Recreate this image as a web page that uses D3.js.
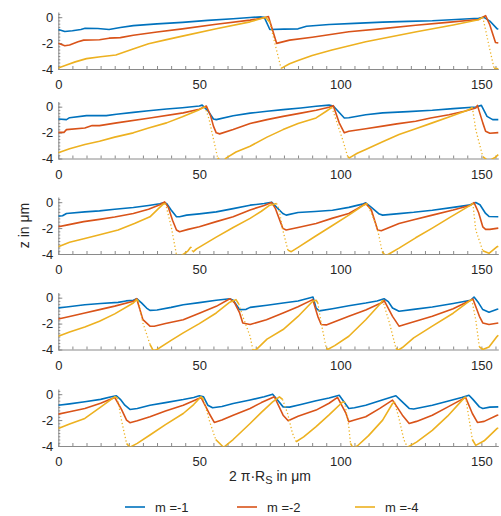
<!DOCTYPE html>
<html>
<head>
<meta charset="utf-8">
<script src="https://cdnjs.cloudflare.com/ajax/libs/d3/7.8.5/d3.min.js"></script>
<style>
body { margin: 0; background: #fff; }
svg { display: block; font-family: "Liberation Sans", Arial, sans-serif; }
</style>
</head>
<body>
<script>
/*series labels and colours*/
var seriesNames = ["m =-1", "m =-2", "m =-4"];
var seriesColors = ["#0072BD", "#D95319", "#EDB120"];

/*tick labels*/
var xTickLabels = [0, 50, 100, 150];
var zTickLabels = [-4, -2, 0];

/*panel 1 : [x in um, z in um]*/
var panel1M1 = [[0,-0.95],[2.3,-1.1],[5,-1.05],[8,-0.95],[9.5,-0.85],[14,-0.87],[18,-0.95],[22,-0.8],[26.6,-0.65],[35,-0.52],[44,-0.4],[53,-0.25],[62,-0.12],[68,-0.02],[72,0.02],[73,0.0],[75,-0.95],[80,-0.92],[85,-0.9],[88,-0.7],[96,-0.56],[105,-0.48],[115,-0.38],[124,-0.32],[132.6,-0.28],[141,-0.18],[149,-0.08],[150.8,0.0],[153,-0.3],[155.6,-0.9],[156,-0.92]];
var panel1M2 = [[0,-2.02],[2.3,-2.2],[4,-2.15],[7,-1.9],[9,-1.77],[14.6,-1.74],[18,-1.62],[22,-1.58],[26.6,-1.4],[35,-1.15],[44,-0.9],[56,-0.55],[68,-0.23],[73,-0.05],[74.5,0.05],[77.4,-2.02],[82,-1.77],[90,-1.55],[103,-1.13],[115,-0.88],[126.7,-0.62],[138,-0.4],[149,-0.18],[151.5,0.12],[153,-0.6],[155,-1.95],[156,-2.0]];
var panel1M4 = [[0,-3.92],[2.9,-3.7],[6,-3.45],[10,-3.2],[15,-3.05],[20.4,-2.92],[26,-2.5],[32,-2.05],[38,-1.75],[44,-1.46],[56,-0.9],[68,-0.36],[72,-0.1],[73.5,0.0],[75,-0.4],[77,-2.2],[79,-3.95],[82,-3.6],[85,-3.35],[90,-2.95],[97,-2.54],[109,-1.9],[127,-1.13],[140,-0.6],[149,-0.2],[150.5,0.0],[152.5,-2.0],[154.5,-3.95],[156,-3.98]];

/*panel 2*/
var panel2M1 = [[0,-0.95],[2.9,-1.0],[4,-0.85],[10,-0.69],[17,-0.69],[20.6,-0.58],[26.6,-0.44],[32,-0.32],[38.4,-0.18],[44,-0.08],[50,0.05],[51,0.12],[53,-0.3],[55,-0.95],[56,-1.0],[62,-0.7],[68,-0.5],[74,-0.35],[79.7,-0.23],[86,-0.1],[91.4,0.03],[96,0.12],[97.5,0.05],[101.4,-0.87],[103,-0.85],[109,-0.62],[115,-0.48],[124,-0.38],[132.6,-0.28],[140,-0.15],[148,-0.02],[150,0.1],[152,-0.75],[154,-1.0],[156,-1.0]];
var panel2M2 = [[0,-1.98],[2,-1.98],[2.9,-1.77],[9.4,-1.65],[12,-1.46],[14.6,-1.46],[20.7,-1.25],[32.5,-0.87],[44.3,-0.48],[50,-0.2],[52.5,0.05],[54,-0.7],[55,-1.5],[56,-2.02],[57.2,-2.1],[62,-1.77],[68,-1.3],[74,-1.0],[79.7,-0.75],[86,-0.5],[91.4,-0.28],[96,-0.05],[97.5,0.08],[99.6,-1.25],[101.4,-2.02],[103,-1.9],[109,-1.7],[115,-1.5],[120,-1.33],[126.7,-1.13],[132,-0.88],[138.5,-0.62],[144,-0.35],[148,-0.1],[148.6,0.1],[150.5,-1.25],[151.5,-1.9],[153,-2.05],[156,-2.0]];
var panel2M4 = [[0,-3.56],[4,-3.25],[9.4,-2.92],[14.6,-2.67],[20,-2.35],[26.6,-2.02],[32,-1.65],[38.4,-1.25],[44,-0.78],[50,-0.23],[52,0.0],[53.5,-1.0],[55.3,-2.8],[56.5,-3.95],[58,-4.3],[59.6,-3.95],[63,-3.5],[68,-3.05],[74,-2.35],[79.7,-1.77],[85,-1.3],[91.4,-0.87],[95,-0.35],[97,-0.05],[100.8,-2.54],[102.6,-3.85],[103.2,-3.95],[106,-3.6],[109,-3.3],[115,-2.7],[120.8,-2.15],[126.7,-1.7],[132.6,-1.25],[139,-0.75],[145.6,-0.23],[146.8,-0.05],[148,-1.77],[150.5,-3.85],[152.5,-4.2],[155,-3.9],[156,-3.7]];

/*panel 3*/
var panel3M1 = [[0,-1.08],[1.5,-1.05],[2.9,-0.87],[9.4,-0.75],[14.6,-0.67],[20,-0.55],[26.6,-0.41],[32,-0.25],[36,-0.12],[37.2,-0.05],[38.4,-0.1],[40,-0.6],[41.9,-1.13],[43,-1.12],[45.5,-1.0],[50,-0.9],[56,-0.75],[62,-0.5],[68,-0.23],[73,-0.1],[75.6,0.0],[77,-0.3],[79.6,-0.87],[80.8,-1.0],[85,-0.8],[91,-0.72],[97.2,-0.62],[103,-0.4],[107.8,-0.15],[109,-0.05],[111,-0.4],[113.8,-0.92],[115,-1.0],[120.8,-0.88],[126,-0.78],[132.6,-0.62],[140,-0.4],[145.6,-0.23],[148,-0.02],[149.5,-0.2],[151.5,-0.87],[152.7,-1.1],[156,-1.13]];
var panel3M2 = [[0,-1.9],[2.9,-1.77],[9,-1.5],[14.6,-1.33],[20,-1.15],[26.6,-0.87],[32,-0.55],[36,-0.2],[37.7,0.02],[39,-0.4],[40.5,-1.4],[41.9,-2.15],[43,-2.28],[46,-2.1],[50,-1.9],[56,-1.5],[62,-1.13],[68,-0.6],[73,-0.25],[75.6,-0.02],[77,-0.5],[79.6,-2.02],[80.8,-2.15],[85,-1.95],[91.4,-1.64],[97,-1.25],[103,-0.87],[106,-0.5],[109,-0.1],[111,-0.6],[113.2,-2.15],[114.5,-2.2],[120.8,-1.64],[126,-1.35],[132.6,-1.0],[140,-0.6],[146.2,-0.23],[147.4,-0.03],[149,-0.8],[150.5,-1.9],[151.5,-2.1],[153,-2.1],[156,-2.0]];
var panel3M4 = [[0,-3.44],[4,-3.1],[9.4,-2.8],[15,-2.5],[21.2,-2.15],[27,-1.65],[32.5,-1.13],[35.5,-0.5],[37.2,-0.15],[38,-0.1],[40,-1.85],[41.9,-4.07],[43,-4.2],[44.5,-4.0],[46,-3.75],[47,-3.45],[47.7,-3.85],[49,-3.6],[56,-2.7],[62,-1.95],[68,-1.25],[72,-0.7],[75,-0.23],[77.4,-0.1],[78.3,-0.6],[79.6,-2.15],[81.4,-3.7],[82.6,-3.82],[85.3,-3.45],[91,-2.65],[97.2,-1.8],[103,-1.0],[108.3,-0.23],[109.5,-0.1],[113,-1.9],[114.8,-3.8],[116,-4.15],[118,-3.9],[120.8,-3.55],[126.7,-2.75],[132.6,-2.0],[139,-1.15],[146.2,-0.23],[147,-0.1],[148,-2.15],[150.5,-3.75],[152.7,-3.95],[155.6,-3.44],[156,-3.4]];

/*panel 4*/
var panel4M1 = [[0,-0.79],[2.9,-0.72],[9.4,-0.54],[15,-0.45],[21.2,-0.36],[24,-0.25],[26.6,-0.2],[27.8,-0.08],[29.5,-0.4],[31.3,-0.8],[32.5,-0.98],[35,-0.95],[40,-0.75],[44.3,-0.54],[50,-0.38],[56,-0.2],[60.8,-0.08],[62,-0.2],[64.3,-0.92],[66.6,-0.9],[68,-0.75],[74,-0.58],[79.7,-0.41],[85,-0.25],[89,-0.02],[90.3,0.05],[91.4,-0.8],[92.5,-1.02],[97.2,-0.85],[103,-0.62],[109,-0.41],[113,-0.25],[115.5,-0.08],[117,-0.3],[118.5,-0.8],[120.8,-1.05],[126,-0.9],[132.6,-0.72],[140,-0.45],[146.2,-0.2],[147.4,0.05],[149,-0.4],[150.5,-0.92],[152.7,-1.13],[155.6,-0.9],[156,-0.88]];
var panel4M2 = [[0,-1.64],[4,-1.45],[9.4,-1.18],[14.6,-0.92],[20,-0.65],[26.6,-0.28],[27.8,-0.08],[30,-1.7],[32.5,-2.2],[34,-2.2],[38,-2.0],[44.3,-1.7],[50,-1.2],[56,-0.67],[60.8,-0.08],[62.5,-0.4],[64.3,-1.18],[65.4,-1.95],[68,-2.07],[73.8,-1.7],[79.7,-1.18],[85,-0.7],[90.2,-0.15],[92,-1.44],[93.2,-2.07],[95,-2.1],[103,-1.44],[109,-0.95],[115,-0.36],[115.5,-0.2],[118.5,-1.44],[120.8,-2.2],[124,-2.0],[132.6,-1.44],[140,-0.85],[146.2,-0.2],[147,-0.1],[149.3,-1.44],[150.5,-1.95],[152.7,-2.07],[156,-1.95]];
var panel4M4 = [[0,-2.98],[4,-2.65],[9.4,-2.26],[14.6,-1.82],[20,-1.25],[26.6,-0.41],[27.8,-0.15],[28.5,-0.3],[30,-1.95],[32.5,-3.6],[33.7,-4.1],[35,-4.0],[40,-3.3],[44.3,-2.72],[50,-2.0],[56,-1.18],[60.8,-0.35],[63,-0.15],[64,-0.5],[65.4,-1.44],[68,-2.98],[69,-4.05],[70,-4.05],[74,-3.2],[79.7,-2.46],[85,-1.45],[90.2,-0.28],[91.4,-0.2],[92,-0.4],[93.2,-1.95],[95,-3.9],[95.5,-4.0],[98,-3.7],[103,-2.98],[109,-1.7],[114.4,-0.41],[115,-0.2],[117.4,-1.95],[119.7,-3.9],[120.5,-4.05],[122,-3.85],[126,-3.1],[132.6,-2.2],[140,-1.2],[145.6,-0.28],[146.6,-0.15],[148,-1.7],[149.3,-3.8],[150.5,-4.0],[152.7,-3.8],[155.6,-2.98],[156,-2.9]];

/*panel 5*/
var panel5M1 = [[0,-0.85],[4,-0.75],[9.4,-0.59],[15,-0.4],[18.8,-0.2],[20.6,-0.12],[22,-0.4],[23.6,-0.85],[25.4,-1.18],[28,-1.1],[32.5,-0.85],[38,-0.65],[44.3,-0.41],[48,-0.25],[50,-0.12],[51.5,-0.2],[53,-0.85],[54.7,-1.05],[58,-0.95],[62,-0.72],[68,-0.45],[73,-0.2],[76,0.0],[77.5,-0.4],[79.7,-0.98],[82,-1.0],[86,-0.8],[91.4,-0.51],[96,-0.3],[99.6,-0.08],[101,-0.5],[103,-1.1],[105,-1.05],[109,-0.85],[114,-0.5],[118.5,-0.2],[119.7,-0.12],[121.5,-0.5],[124.4,-1.1],[126,-1.15],[132.6,-0.85],[138,-0.55],[143,-0.25],[145.6,-0.08],[147,-0.4],[149.3,-0.98],[150.5,-1.1],[153,-1.0],[156,-0.98]];
var panel5M2 = [[0,-1.54],[4,-1.35],[9.4,-1.1],[15,-0.7],[20,-0.25],[22.4,-1.18],[24.2,-2.0],[25.4,-2.2],[28,-2.05],[32.5,-1.74],[38,-1.3],[44.3,-0.85],[48,-0.5],[50.6,-0.25],[53.5,-1.49],[55.3,-2.18],[58,-2.0],[62,-1.62],[68,-1.1],[72,-0.65],[76.6,-0.2],[79.7,-1.62],[81.5,-2.05],[85,-1.7],[91.4,-1.23],[96,-0.7],[99,-0.25],[102,-1.49],[103,-2.13],[105,-2.0],[109,-1.74],[114,-1.1],[118.5,-0.46],[122,-1.62],[124.4,-2.26],[127,-2.1],[132.6,-1.62],[138,-1.0],[144.4,-0.25],[146.8,-1.49],[148.6,-2.18],[151,-2.1],[155.6,-1.62],[156,-1.6]];
var panel5M4 = [[0,-2.64],[4,-2.3],[9.4,-1.87],[15,-1.0],[20,-0.2],[21,-0.3],[22.4,-2.0],[24.2,-3.8],[25.4,-4.1],[28,-3.8],[32.5,-3.15],[38,-2.35],[44.3,-1.49],[48,-0.8],[50.6,-0.2],[51.5,-0.4],[53.5,-2.0],[55.8,-3.5],[58.6,-4.1],[62,-3.5],[68,-2.26],[72,-1.4],[76,-0.6],[78.4,-0.2],[79.5,-0.4],[81.3,-1.49],[83,-3.0],[84.3,-3.67],[87,-3.3],[91.4,-2.51],[96,-1.6],[100.8,-0.6],[101.5,-0.6],[103,-2.51],[103.6,-3.8],[104.5,-4.15],[106,-4.0],[110,-3.2],[115,-2.0],[118.5,-0.72],[119.2,-0.6],[120.8,-1.87],[122.5,-3.5],[123.8,-4.1],[127,-3.7],[132.6,-2.8],[138,-1.7],[143.2,-0.46],[144.4,-0.2],[145.6,-1.87],[146.8,-3.5],[148,-3.95],[151,-3.6],[155.6,-2.64],[156,-2.6]];

var panels = [
	[panel1M1, panel1M2, panel1M4],
	[panel2M1, panel2M2, panel2M4],
	[panel3M1, panel3M2, panel3M4],
	[panel4M1, panel4M2, panel4M4],
	[panel5M1, panel5M2, panel5M4]
];

/*layout*/
var svgWidth = 501, svgHeight = 516;
var panelBottoms = [69, 158.5, 254, 349.5, 446];
var panelHeight = 57;
var axisColor = "#8a8a8a", textColor = "#262626";

var svg = d3.select("body").append("svg")
	.attr("width", svgWidth)
	.attr("height", svgHeight);

var xLinearScale = d3.scaleLinear().domain([0, 156]).range([58.3, 498.3]);

/*split a series into runs, steep falling parts of m=-4 are drawn dotted*/
function splitRuns(points, dotted) {
	var runs = [];
	for (var k = 1; k < points.length; k++) {
		var a = points[k - 1], b = points[k];
		var steep = dotted && (b[1] - a[1]) / (b[0] - a[0]) < -0.45;
		var last = runs[runs.length - 1];
		if (last && last.steep === steep) last.pts.push(b);
		else runs.push({steep: steep, pts: [a, b]});
	}
	return runs;
}

panels.forEach(function (panel, i) {
	var bottom = panelBottoms[i];
	var yLinearScale = d3.scaleLinear().domain([-4, 0.4]).range([bottom, bottom - panelHeight]);

	var chartGroup = svg.append("g");

	svg.append("clipPath").attr("id", "clip" + i)
		.append("rect")
		.attr("x", xLinearScale(0))
		.attr("y", bottom - panelHeight - 2)
		.attr("width", xLinearScale(156) - xLinearScale(0) + 1)
		.attr("height", panelHeight + 2.5);

	/*minor ticks on z*/
	var minorAxis = d3.axisLeft(yLinearScale)
		.tickValues(d3.range(-16, 2).map(function (d) { return d / 4; }))
		.tickSizeInner(-2).tickSizeOuter(0).tickFormat("");
	var minorG = chartGroup.append("g")
		.attr("transform", "translate(" + xLinearScale(0) + ",0)")
		.call(minorAxis);
	minorG.select(".domain").remove();
	minorG.selectAll("line").attr("stroke", axisColor);

	/*left axis*/
	var leftAxis = d3.axisLeft(yLinearScale)
		.tickValues(zTickLabels)
		.tickSizeInner(-4).tickSizeOuter(0).tickPadding(5)
		.tickFormat(function (d) { return String(d); });
	var yAxis = chartGroup.append("g")
		.attr("transform", "translate(" + xLinearScale(0) + ",0)")
		.call(leftAxis);

	/*bottom axis*/
	var bottomAxis = d3.axisBottom(xLinearScale)
		.tickValues(d3.range(0, 156, 5))
		.tickSizeInner(-3).tickSizeOuter(0).tickPadding(11)
		.tickFormat(function (d) { return xTickLabels.indexOf(d) >= 0 ? String(d) : ""; });
	var xAxis = chartGroup.append("g")
		.attr("transform", "translate(0," + bottom + ")")
		.call(bottomAxis);

	[xAxis, yAxis].forEach(function (ax) {
		ax.select(".domain").attr("stroke", axisColor);
		ax.selectAll("line").attr("stroke", axisColor);
		ax.selectAll("text")
			.attr("fill", textColor)
			.style("font-size", "13px")
			.style("font-family", "'Liberation Sans', Arial, sans-serif");
	});

	/*lines*/
	var line = d3.line()
		.x(function (d) { return xLinearScale(d[0]); })
		.y(function (d) { return yLinearScale(d[1]); });

	var lineGroup = chartGroup.append("g").attr("clip-path", "url(#clip" + i + ")");
	panel.forEach(function (series, s) {
		splitRuns(series, s === 2).forEach(function (run) {
			lineGroup.append("path")
				.attr("d", line(run.pts))
				.attr("fill", "none")
				.attr("stroke", seriesColors[s])
				.attr("stroke-width", run.steep ? 1.3 : 1.6)
				.attr("stroke-linejoin", "round")
				.attr("stroke-dasharray", run.steep ? "1.2,2.4" : null);
		});
	});
});

/*axis labels*/
svg.append("text")
	.attr("transform", "translate(24,225.5) rotate(-90)")
	.attr("text-anchor", "middle")
	.attr("dominant-baseline", "central")
	.attr("fill", textColor)
	.style("font-size", "14px")
	.text("z in μm");

var xLabel = svg.append("text")
	.attr("x", 270)
	.attr("y", 481)
	.attr("text-anchor", "middle")
	.attr("fill", textColor)
	.style("font-size", "14px");
xLabel.append("tspan").text("2 π·R");
xLabel.append("tspan").attr("dy", 3).style("font-size", "11px").text("S");
xLabel.append("tspan").attr("dy", -3).text(" in μm");

/*legend*/
var legendGroup = svg.append("g").attr("transform", "translate(0,507)");
var legendX = [125, 237, 355];
seriesNames.forEach(function (name, s) {
	legendGroup.append("line")
		.attr("x1", legendX[s]).attr("x2", legendX[s] + 20)
		.attr("y1", 0).attr("y2", 0)
		.attr("stroke", seriesColors[s])
		.attr("stroke-width", 1.6);
	legendGroup.append("text")
		.attr("x", legendX[s] + 30)
		.attr("y", 0)
		.attr("dy", "0.35em")
		.attr("fill", textColor)
		.style("font-size", "13px")
		.text(name);
});
</script>
</body>
</html>
